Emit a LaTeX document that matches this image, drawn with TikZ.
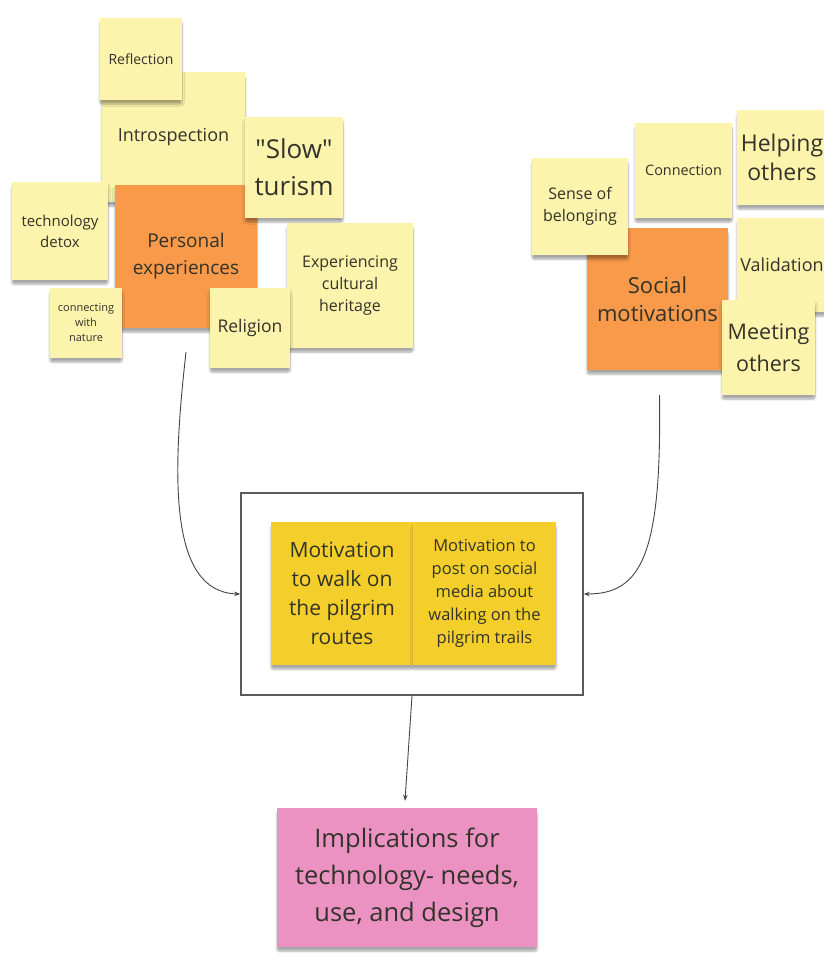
\documentclass[tikz,border=0pt]{standalone}
\usepackage{fontspec}
\setmainfont{Open Sans}
\newfontfamily\rawfont{Open Sans}[Ligatures=ResetAll]
\usetikzlibrary{shadows.blur,arrows.meta,calc}
\definecolor{notey}{HTML}{FCF3AC}
\definecolor{noteo}{HTML}{F99A4A}
\definecolor{notem}{HTML}{F4CF2C}
\definecolor{notep}{HTML}{EC92C3}
\definecolor{txt}{HTML}{33332A}
\definecolor{linec}{HTML}{444444}
\definecolor{framec}{HTML}{5A5A5A}
\begin{document}
\begin{tikzpicture}[x=1pt,y=-1pt,
  note/.style={rectangle, fill=notey, text=txt, align=center, inner sep=0pt,
    blur shadow={shadow xshift=0pt, shadow yshift=-4pt, shadow blur steps=6, shadow blur extra rounding=2pt, shadow opacity=35}},
  sz/.style 2 args={font=\fontsize{#1}{#2}\selectfont},
  conn/.style={draw=linec, line width=0.9pt, -{Stealth[length=6pt,width=4.5pt]}}]
\useasboundingbox (0,0) rectangle (823,963);
% left cluster
\node[note, minimum width=143, minimum height=130, sz={18}{24}] (intro) at (173.5,137) {Introspection};
\node[note, fill=noteo, minimum width=142, minimum height=143, sz={19}{27}] (pe) at (186,256.5) {Personal\\experiences};
\node[note, minimum width=98, minimum height=101, sz={26}{37}] (slow) at (294,167.5) {{\rawfont"}Slow{\rawfont"}\\turism};
\node[note, minimum width=82, minimum height=82, sz={14}{19}] (refl) at (141,59) {Reflection};
\node[note, minimum width=96, minimum height=98, sz={15}{21}] (tech) at (60,231) {technology\\detox};
\node[note, minimum width=72, minimum height=70, sz={11}{15}] (nat) at (86,323) {connecting\\with\\nature};
\node[note, minimum width=126, minimum height=125, sz={16}{22}] (exp) at (350,285.5) {Experiencing\\cultural\\heritage};
\node[note, minimum width=80, minimum height=80, sz={17.5}{24}] (rel) at (250,328) {Religion};
% right cluster
\node[note, minimum width=97, minimum height=95, sz={14.4}{20}] (cnx) at (683.5,170.5) {Connection};
\node[note, minimum width=90, minimum height=95, sz={23}{29}] (help) at (782,157.5) {Helping\\others};
\node[note, fill=noteo, minimum width=141, minimum height=142, sz={22}{28}] (sm) at (657.5,299) {Social\\motivations};
\node[note, minimum width=96, minimum height=97, sz={16}{22}] (sob) at (580,206.5) {Sense of\\belonging};
\node[note, minimum width=90, minimum height=94, sz={18}{24}] (val) at (782,265) {Validation};
\node[note, minimum width=93, minimum height=95, sz={21.5}{32}] (meet) at (768.5,347.5) {Meeting\\others};
% middle
\node[draw=framec, line width=1.6pt, minimum width=342, minimum height=202, inner sep=0pt] (frame) at (412,594) {};
\node[note, fill=notem, minimum width=142, minimum height=143, sz={21}{29}] (mw) at (342,593.5) {Motivation\\to walk on\\the pilgrim\\routes};
\node[note, fill=notem, minimum width=143, minimum height=143, sz={16.5}{23}] (mp) at (484.5,593.5) {Motivation to\\post on social\\media about\\walking on the\\pilgrim trails};
% bottom
\node[note, fill=notep, text=txt, minimum width=260, minimum height=139, sz={25.5}{37}] (impl) at (407,877.5) {Implications for\\technology- needs,\\use, and design};
% connectors
\draw[conn] ($(pe.south)+(0,24)$) .. controls ($(frame.west)+(-68,-120)$) and ($(frame.west)+(-72,-2)$) .. (frame.west);
\draw[conn] ($(sm.south)+(2,25)$) .. controls ($(frame.east)+(78,-40)$) and ($(frame.east)+(58,0)$) .. (frame.east);
\coordinate (implin) at ($(impl.north)+(-2,-7)$);
\draw[conn] (frame.south) -- (implin);
\end{tikzpicture}
\end{document}
